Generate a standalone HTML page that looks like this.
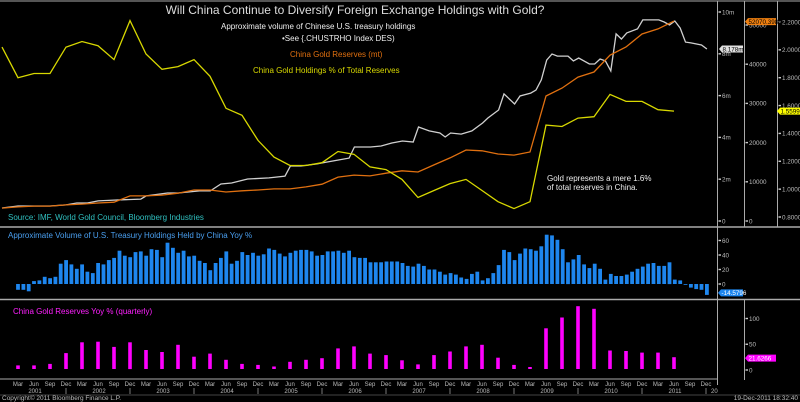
<!DOCTYPE html>
<html><head><meta charset="utf-8"><style>
html,body{margin:0;padding:0;background:#000;}
svg{display:block;font-family:"Liberation Sans",sans-serif;}
</style></head><body>
<svg id="c" width="800" height="402" viewBox="0 0 800 402">
<rect x="0" y="0" width="800" height="402" fill="#000"/>
<g id="frame">
<line x1="0" y1="1" x2="800" y2="1" stroke="#aaa" stroke-width="1"/>
<line x1="0" y1="227" x2="800" y2="227" stroke="#aaa" stroke-width="1.5"/>
<line x1="0" y1="299.5" x2="800" y2="299.5" stroke="#aaa" stroke-width="1.5"/>
<line x1="0" y1="379" x2="717" y2="379" stroke="#aaa" stroke-width="1"/>
<line x1="0" y1="395" x2="800" y2="395" stroke="#444" stroke-width="1"/>
<line x1="717.5" y1="1" x2="717.5" y2="385" stroke="#aaa" stroke-width="1"/>
<line x1="744.5" y1="1" x2="744.5" y2="227" stroke="#aaa" stroke-width="1"/>
<line x1="777.5" y1="1" x2="777.5" y2="227" stroke="#aaa" stroke-width="1"/>
<line x1="744.5" y1="300" x2="744.5" y2="380" stroke="#aaa" stroke-width="1"/>
</g>
<g id="g-text">
<text x="355" y="14" fill="#ddd" font-size="12" text-anchor="middle">Will China Continue to Diversify Foreign Exchange Holdings with Gold?</text>
<text x="221" y="29" fill="#eee" font-size="8">Approximate volume of Chinese U.S. treasury holdings</text>
<text x="282" y="41" fill="#eee" font-size="8">•See {.CHUSTRHO Index DES)</text>
<text x="290" y="57" fill="#e07010" font-size="8">China Gold Reserves (mt)</text>
<text x="253" y="73" fill="#d8d800" font-size="8">China Gold Holdings % of Total Reserves</text>
<text x="547" y="181" fill="#eee" font-size="8">Gold represents a mere 1.6%</text>
<text x="547" y="190" fill="#eee" font-size="8">of total reserves in China.</text>
<text x="8" y="220" fill="#30c0c0" font-size="8">Source: IMF, World Gold Council, Bloomberg Industries</text>
<text x="8" y="238" fill="#4a9ff0" font-size="8">Approximate Volume of U.S. Treasury Holdings Held by China Yoy %</text>
<text x="13" y="314" fill="#ff20ff" font-size="8">China Gold Reserves Yoy % (quarterly)</text>
<text x="2" y="400" fill="#bbb" font-size="6.5">Copyright© 2011 Bloomberg Finance L.P.</text>
<text x="798" y="400" fill="#bbb" font-size="6.5" text-anchor="end">19-Dec-2011 18:32:40</text>
</g>
</svg>
<script>
// Top panel series
const goldPct = [2.02,1.80,1.83,1.83,2.02,2.06,2.03,1.93,2.21,1.97,1.86,1.88,1.93,1.81,1.58,1.53,1.35,1.23,1.17,1.17,1.19,1.27,1.25,1.16,1.14,1.07,0.94,0.99,1.04,1.07,0.99,0.91,0.86,0.91,1.46,1.45,1.51,1.52,1.68,1.63,1.63,1.57,1.56];
const goldReserves = [3300,3600,3800,3800,4100,4300,4600,4800,6400,6400,6600,7100,7900,7900,7400,7700,7900,8200,8200,8700,9400,11200,11700,11500,12200,12800,12500,14300,16100,18100,17900,17100,16800,17600,31900,33900,36700,38000,42300,44400,47700,49000,51000];
const treasuryMonths = [0,3,9,12,14,16,18,21,26,27,31,33,37,39,41,43,46,50,53,54,56,59,60,63,65,66,69,71,73,75,77,78,80,82,83,84,86,88,90,91,93,94,96,97,99,100,101,102,103,104,106,107,108,110,111,112,113,114,115,116,117,119,120,121,123,124,125,126,127,128,129,131,132];
const treasuryValues = [0.62,0.72,0.72,0.77,0.86,0.86,0.96,1.00,1.05,1.20,1.34,1.34,1.44,1.44,1.77,1.82,2.01,2.06,2.15,2.63,2.63,2.73,2.78,2.92,3.01,3.54,3.54,3.59,3.73,3.83,3.78,4.50,4.31,4.21,4.02,4.21,4.16,4.31,4.69,4.93,5.31,6.08,5.60,5.98,6.12,6.27,6.75,7.70,7.99,7.89,7.89,7.66,7.80,7.51,7.51,7.75,7.66,7.18,8.95,8.71,9.00,9.19,9.62,9.62,9.62,9.52,9.38,9.57,9.23,8.56,8.52,8.42,8.23];
// Middle panel (monthly, Mar 2001 .. Dec 2011)
const treasuryYoy = [-8,-8,-10,4,5,10,8,10,28,33,27,21,27,17,15,29,27,33,36,46,39,37,44,45,39,48,47,37,57,50,43,46,38,39,32,29,19,29,36,45,28,32,44,40,43,39,41,49,47,42,38,43,46,47,47,45,39,40,45,45,46,43,46,37,36,36,30,30,30,31,31,31,
 29,25,24,28,25,20,20,17,13,15,13,9,7,14,17,5,8,15,26,47,44,33,42,49,48,46,52,68,67,61,48,30,34,40,27,22,28,21,6,14,11,11,13,17,21,24,28,29,25,25,30,6,5,-1,-5,-7,-8,-15];
// Bottom panel (quarterly, Mar 2001 .. Jun 2011)
const goldYoy = [5,5,8,29,50,51,41,50,35,31,45,22,28,16,8,6,3,12,16,19,38,42,28,25,15,7,25,32,42,45,20,6,2,77,98,120,115,34,33,30,30,21];
// Axis labels
const monthLabels = ["Mar","Jun","Sep","Dec"];
const yearLabels = ["2001","2002","2003","2004","2005","2006","2007","2008","2009","2010","2011"];
const leftTicks = ["0","2m","4m","6m","8m","10m"];
const goldTicks = ["0","10000","20000","30000","40000","50000"];
const pctTicks = ["0.8000","1.0000","1.2000","1.4000","1.6000","1.8000","2.0000","2.2000"];
const midTicks = ["0","20","40","60"];
const botTicks = ["0","50","100"];

const NS="http://www.w3.org/2000/svg";
const svg=document.getElementById('c');
function mk(tag,attrs,parent){const e=document.createElementNS(NS,tag);for(const k in attrs)e.setAttribute(k,attrs[k]);(parent||svg).appendChild(e);return e;}
// axis functions
const xMonth=m=>2+m*5.34;
const xQuarter=q=>2+q*16;
const yTreas=v=>221-v*20.9;
const yGold=v=>221-v*0.00392;
const yPct=v=>217-(v-0.8)*139.3;
const yMid=v=>284-v*0.725;
const yBot=v=>370-v*0.515;

function line(xs,ys,color,name){
  let d='';for(let i=0;i<xs.length;i++)d+=(i?'L':'M')+xs[i].toFixed(1)+' '+ys[i].toFixed(1);
  const p=mk('path',{d:d,fill:'none',stroke:color,'stroke-width':1.3});
  
  
}
line(treasuryMonths.map(xMonth),treasuryValues.map(yTreas),'#d0d0d0','treasury-line');
line(goldReserves.map((v,i)=>xQuarter(i)),goldReserves.map(yGold),'#e07010','gold-reserves-line');
line(goldPct.map((v,i)=>xQuarter(i)),goldPct.map(yPct),'#d8d800','gold-pct-line');

treasuryYoy.forEach((v,i)=>{
  const x=xMonth(i+3);const y0=yMid(0),y1=yMid(v);
  const r=mk('rect',{x:(x-1.9).toFixed(1),y:Math.min(y0,y1).toFixed(1),width:3.8,height:Math.max(0.8,Math.abs(y1-y0)).toFixed(1),fill:'#1e86ee'});
  
  
});
goldYoy.forEach((v,i)=>{
  const x=xQuarter(i+1);const y0=yBot(0),y1=yBot(v);
  const r=mk('rect',{x:(x-1.8).toFixed(1),y:Math.min(y0,y1-2).toFixed(1),width:3.6,height:Math.max(2,Math.abs(y1-y0)+1).toFixed(1),fill:'#ff00ff'});
  
  
});

function ticks(labels,valFn,yFn,xAxis,name){
  labels.forEach((l,i)=>{
    const y=yFn(valFn(i));
    const t1=mk('rect',{x:xAxis+1,y:y-0.7,width:2.5,height:1.4,fill:'#ccc'});
    
    
    const t=mk('text',{x:xAxis+4.5,y:y+2.3,fill:'#bbb','font-size':6.3});
    t.textContent=l;
    
    
  });
}
ticks(leftTicks,i=>i*2,yTreas,717.5,'treasury-axis');
ticks(goldTicks,i=>i*10000,yGold,744.5,'gold-axis');
ticks(pctTicks,i=>0.8+i*0.2,yPct,777.5,'pct-axis');
ticks(midTicks,i=>i*20,yMid,717.5,'yoy-axis');
ticks(botTicks,i=>i*50,yBot,744.5,'gold-yoy-axis');

function tag(x,y,w,txt,bg,fg,name){
  const g=mk('g',{});
  
  
  mk('path',{d:`M${x} ${y} L${x+3} ${y-3.5} L${x+w} ${y-3.5} L${x+w} ${y+3.5} L${x+3} ${y+3.5} Z`,fill:bg},g);
  const t=mk('text',{x:x+3.5,y:y+2.3,fill:fg,'font-size':6.3},g);t.textContent=txt;
}
tag(719,yTreas(treasuryValues[treasuryValues.length-1]),24,'8.178m','#e0e0e0','#000','treasury-last-tag');
tag(745,yGold(goldReserves[goldReserves.length-1])+0.5,31,'52070.3984','#f08010','#000','gold-last-tag');
tag(777,yPct(goldPct[goldPct.length-1]),23,'1.5599','#ffff00','#000','pct-last-tag');
tag(718,yMid(treasuryYoy[treasuryYoy.length-1])-2,25,'-14.5796','#1e86ee','#fff','yoy-last-tag');
tag(745,yBot(goldYoy[goldYoy.length-1])-1,31,'21.6266','#ff00ff','#fff','gold-yoy-last-tag');

// x axis
for(let q=1;q<=44;q++){
  const x=xQuarter(q);
  const t=mk('text',{x:x,y:386,fill:'#bbb','font-size':6,'text-anchor':'middle'});
  t.textContent=monthLabels[(q-1)%4];
  
  
  if(q%4===0){
    const s=mk('line',{x1:x,y1:388,x2:x,y2:394,stroke:'#999','stroke-width':0.8});
    
    
  }
}
yearLabels.forEach((l,i)=>{
  const t=mk('text',{x:xQuarter(i*4+2)+1,y:393,fill:'#bbb','font-size':6,'text-anchor':'middle'});
  t.textContent=l;
  
  
});
const te=mk('text',{x:711,y:393,fill:'#bbb','font-size':6});
te.textContent='20';


</script>
</body></html>
